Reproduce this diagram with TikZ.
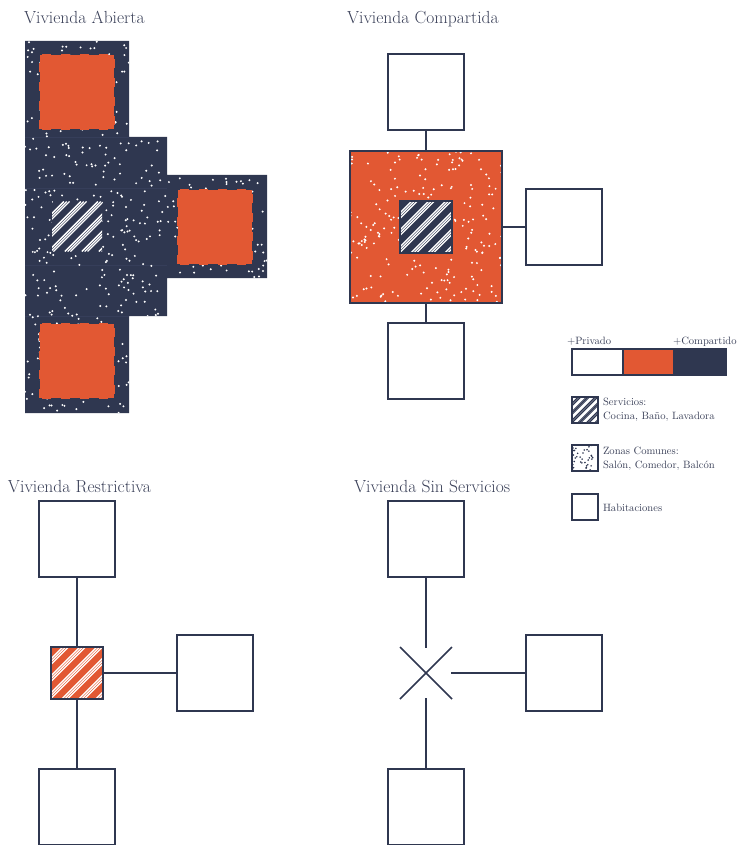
\documentclass[tikz,border=0pt]{standalone}
\usepackage{fontspec}
\definecolor{navy}{HTML}{2F3750}
\definecolor{navytext}{HTML}{3A4058}
\definecolor{seam}{HTML}{363E5A}
\definecolor{brick}{HTML}{E25833}
\tikzset{
  x=1pt,y=-1pt,
  every node/.style={inner sep=0pt,outer sep=0pt},
  room/.style={draw=navy,line width=1.8pt,fill=white,minimum size=76pt},
  link/.style={draw=navy,line width=1.8pt},
  crossline/.style={draw=navy,line width=1.6pt},
  boxed/.style={draw=navy,line width=1.8pt},
  title/.style={anchor=base west,text=navytext,font=\fontsize{17.5}{20}\selectfont},
  legendtext/.style={anchor=base west,text=navytext,font=\fontsize{10.6}{14}\selectfont},
  softroom/.style={fill=brick,minimum size=74pt},
  softedge/.style={draw=brick,line width=2.2pt,dash pattern=on 9pt off 10pt},
}
% \hatchbox{name}{cx}{cy}{size}{bg}{fg}{period}{gap}{lw}
\newcommand{\hatchbox}[9]{%
  \begin{scope}
    \clip (#2-#4/2,#3-#4/2) rectangle (#2+#4/2,#3+#4/2);
    \fill[#5] (#2-#4/2,#3-#4/2) rectangle (#2+#4/2,#3+#4/2);
    \foreach \k in {-1,...,7}{\foreach \g in {0,1,2}{%
      \pgfmathsetmacro{\tt}{#2-#4/2-#4+\k*#7+\g*#8+#7*0.7}%
      \pgfmathsetmacro{\uu}{\tt+#4}%
      \draw[#6,line width=#9pt] (\tt,#3+#4/2) -- (\uu,#3-#4/2);
    }}
  \end{scope}}
% \speckle{count}{x0}{y0}{w}{h}{colour}{radius}
\newcommand{\speckle}[7]{%
  \foreach \n in {1,...,#1}{%
    \pgfmathsetmacro{\px}{#2+rnd*#4}%
    \pgfmathsetmacro{\py}{#3+rnd*#5}%
    \fill[#6] (\px,\py) circle[radius=#7pt];
  }}
\begin{document}
\begin{tikzpicture}
\useasboundingbox (0,0) rectangle (739,845);
\pgfmathsetseed{4211}
% ---------- titles
\node[title] (t1) at (24,24) {Vivienda Abierta};
\node[title] (t2) at (347,24) {Vivienda Compartida};
\node[title] (t3) at (8,492) {Vivienda Restrictiva};
\node[title] (t4) at (354,492) {Vivienda Sin Servicios};
% ---------- Vivienda Abierta
\def\openshape{(25,41) -- (129,41) -- (129,137) -- (167,137) -- (167,175) -- (267,175) -- (267,278) -- (167,278) -- (167,316) -- (129,316) -- (129,413) -- (25,413) -- cycle}
\fill[navy] \openshape;
\begin{scope}
  \clip \openshape;
  \draw[seam,line width=.5pt] (25,137)--(129,137) (25,188)--(167,188) (25,265)--(167,265) (25,316)--(129,316);
  \speckle{90}{25}{41}{104}{96}{white}{1.1}
  \speckle{120}{25}{137}{142}{90}{white}{1.1}
  \speckle{120}{25}{227}{142}{90}{white}{1.1}
  \speckle{85}{167}{175}{100}{103}{white}{1.1}
  \speckle{85}{25}{316}{104}{97}{white}{1.1}
\end{scope}
\node[softroom] (a1) at (77,92) {};
\node[softroom] (a2) at (215,227) {};
\node[softroom] (a3) at (77,361) {};
\draw[softedge] (a1.south west) rectangle (a1.north east);
\draw[softedge] (a2.south west) rectangle (a2.north east);
\draw[softedge] (a3.south west) rectangle (a3.north east);
\hatchbox{a0}{77}{226.5}{50}{navy}{white}{17}{2.8}{1.3}
% ---------- Vivienda Compartida
\node[room] (b1) at (426,92) {};
\node[room] (b2) at (564,227) {};
\node[room] (b3) at (426,361) {};
\node[boxed,fill=brick,minimum size=152pt] (b0) at (426,227) {};
\draw[link] (b1) -- (b0);
\draw[link] (b2) -- (b0);
\draw[link] (b3) -- (b0);
\begin{scope}
  \clip (b0.south west) rectangle (b0.north east);
  \speckle{215}{350}{151}{152}{152}{white}{1.1}
\end{scope}
\draw[boxed] (b0.south west) rectangle (b0.north east);
\hatchbox{b00}{426}{227}{52}{navy}{white}{17}{2.8}{1.3}
\node[boxed,minimum size=52pt] (b4) at (426,227) {};
% ---------- Vivienda Restrictiva
\node[room] (c1) at (77,539) {};
\node[room] (c2) at (215,673) {};
\node[room] (c3) at (77,807) {};
\node[boxed,minimum size=52pt] (c0) at (77,673) {};
\draw[link] (c1) -- (c0);
\draw[link] (c2) -- (c0);
\draw[link] (c3) -- (c0);
\hatchbox{c00}{77}{673}{52}{brick}{white}{17}{2.8}{1.3}
\node[boxed,minimum size=52pt] (c4) at (77,673) {};
% ---------- Vivienda Sin Servicios
\node[room] (d1) at (426,539) {};
\node[room] (d2) at (564,673) {};
\node[room] (d3) at (426,807) {};
\coordinate (dnw) at (400,647);
\coordinate (dne) at (452,647);
\coordinate (dsw) at (400,699);
\coordinate (dse) at (452,699);
\coordinate (dt) at (426,648);
\coordinate (dr) at (451,673);
\coordinate (db) at (426,698);
\draw[crossline] (dnw) -- (dse);
\draw[crossline] (dne) -- (dsw);
\draw[link] (d1) -- (dt);
\draw[link] (d2) -- (dr);
\draw[link] (d3) -- (db);
% ---------- Legend: scale
\node[legendtext] (l1) at (567,344) {+Privado};
\node[legendtext] (l2) at (673,344) {+Compartido};
\node[boxed,fill=white,minimum width=51pt,minimum height=26pt] (s1) at (597.5,362) {};
\node[boxed,fill=brick,minimum width=51pt,minimum height=26pt] (s2) at (648.5,362) {};
\node[boxed,fill=navy,minimum width=52pt,minimum height=26pt] (s3) at (700,362) {};
% ---------- Legend: keys
\hatchbox{k10}{585}{410}{26}{white}{navy}{8.5}{1.5}{.9}
\node[boxed,minimum size=26pt] (k1) at (585,410) {};
\node[legendtext] (k1a) at (603,405) {Servicios:};
\node[legendtext] (k1b) at (603,419) {Cocina, Baño, Lavadora};
\begin{scope}
  \clip (572,445) rectangle (598,471);
  \speckle{36}{572}{445}{26}{26}{navy}{.9}
\end{scope}
\node[boxed,minimum size=26pt] (k2) at (585,458) {};
\node[legendtext] (k2a) at (603,454) {Zonas Comunes:};
\node[legendtext] (k2b) at (603,468) {Salón, Comedor, Balcón};
\node[boxed,minimum size=26pt] (k3) at (585,507) {};
\node[legendtext] (k3a) at (603,511) {Habitaciones};
\end{tikzpicture}
\end{document}
